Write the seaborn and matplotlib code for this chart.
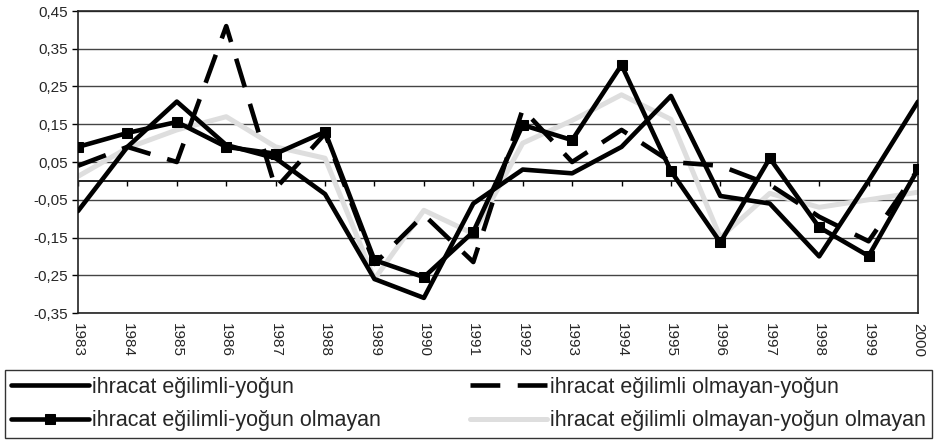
import numpy as np
import pandas as pd
import matplotlib
matplotlib.use("Agg")
import matplotlib.pyplot as plt
import seaborn as sns
from matplotlib.ticker import FuncFormatter

years = list(range(1983, 2001))
s_yogun = [-0.08, 0.09, 0.21, 0.095, 0.06, -0.035, -0.26, -0.31, -0.06, 0.03, 0.02, 0.09, 0.225, -0.04, -0.06, -0.20, 0.0, 0.21]
s_olmayan_yogun = [0.04, 0.09, 0.05, 0.41, -0.02, 0.125, -0.22, -0.09, -0.215, 0.19, 0.05, 0.135, 0.05, 0.04, -0.01, -0.095, -0.16, 0.03]
s_yogun_olmayan = [0.09, 0.127, 0.156, 0.09, 0.072, 0.13, -0.21, -0.255, -0.135, 0.148, 0.108, 0.307, 0.026, -0.163, 0.06, -0.123, -0.199, 0.031]
s_olmayan_olmayan = [0.012, 0.087, 0.135, 0.17, 0.09, 0.06, -0.26, -0.078, -0.14, 0.10, 0.16, 0.228, 0.163, -0.15, -0.033, -0.07, -0.05, -0.03]

labels = ["ihracat eğilimli-yoğun", "ihracat eğilimli olmayan-yoğun",
          "ihracat eğilimli-yoğun olmayan", "ihracat eğilimli olmayan-yoğun olmayan"]
yticks = [-0.35, -0.25, -0.15, -0.05, 0.05, 0.15, 0.25, 0.35, 0.45]

sns.set_theme(style="white")
plt.rcParams['font.family'] = ['Liberation Sans', 'DejaVu Sans']

fig = plt.figure(figsize=(9.35, 4.44), dpi=100)
ax = fig.add_axes([78/935, 1-313/444, (918-78)/935, (313-11)/444])

df = pd.DataFrame({"year": years})
for lab, vals in zip(labels, [s_yogun, s_olmayan_yogun, s_yogun_olmayan, s_olmayan_olmayan]):
    df[lab] = vals

sns.lineplot(data=df, x="year", y=labels[3], ax=ax, color="#dedede", linewidth=3.6,
             label=labels[3], zorder=2)
sns.lineplot(data=df, x="year", y=labels[0], ax=ax, color="black", linewidth=3.3,
             label=labels[0], zorder=3)
sns.lineplot(data=df, x="year", y=labels[1], ax=ax, color="black", linewidth=3.3,
             label=labels[1], zorder=3, linestyle=(0, (6.5, 3.8)))
sns.lineplot(data=df, x="year", y=labels[2], ax=ax, color="black", linewidth=3.3,
             label=labels[2], marker="s", markersize=7.5, markeredgecolor="black",
             zorder=4)

ax.set_xlim(years[0], years[-1])
ax.set_ylim(yticks[0], yticks[-1])
ax.set_yticks(yticks)
ax.yaxis.set_major_formatter(FuncFormatter(lambda v, p: f"{v:.2f}".replace(".", ",")))
ax.set_xticks(years)
ax.set_xticklabels([str(y) for y in years], rotation=-90, fontsize=11)
ax.tick_params(axis="x", length=0, pad=7)
ax.tick_params(axis="y", length=4, width=1, color="black", direction="out", labelsize=11, pad=3, left=True)
ax.set_xlabel("")
ax.set_ylabel("")
ax.grid(axis="y", color="#444444", linewidth=1)
ax.set_axisbelow(True)
for sp in ax.spines.values():
    sp.set_color("#222222")
    sp.set_linewidth(1.2)
    sp.set_visible(True)

ax.axhline(0, color="black", linewidth=1.2, zorder=1.5)
ax.vlines(years, -0.013, 0, color="black", linewidth=1, zorder=1.5)

h, l = ax.get_legend_handles_labels()
ax.get_legend().remove()
hd = dict(zip(l, h))
order = [labels[0], labels[2], labels[1], labels[3]]
leg = fig.legend([hd[k] for k in order], order, loc="center", ncol=2, mode="expand",
                 bbox_to_anchor=(5/935, 1-440/444, 927/935, 72/444),
                 frameon=True, fancybox=False, edgecolor="black", fontsize=15.5,
                 handlelength=3.6, handletextpad=0.12, borderpad=0.3, labelspacing=0.6,
                 borderaxespad=0)
leg.get_frame().set_linewidth(1.0)

fig.savefig("out.png", dpi=100)
